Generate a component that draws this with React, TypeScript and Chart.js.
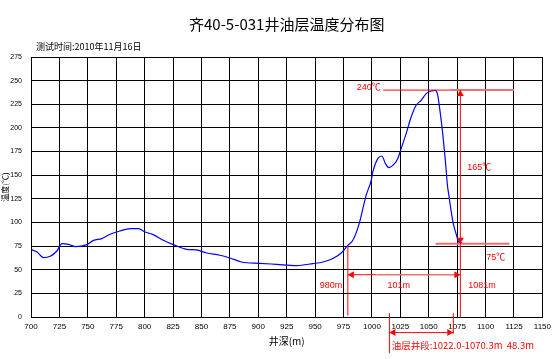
import { useEffect, useRef } from "react";
import { Chart, registerables } from "chart.js";
Chart.register(...registerables);

const TITLE = "齐40-5-031井油层温度分布图";
const SUBTITLE = "测试时间:2010年11月16日";
const X_TITLE = "井深(m)";
const Y_TITLE = "温度(℃)";

const depths = [
  700.3, 705.3, 711.1, 716.9, 722.8, 727.2, 733, 738.9, 749.2, 755, 762.3, 769.6, 778.4, 787.2, 794.5,
  800.4, 807.6, 816.4, 825.2, 837, 845.7, 854.5, 866.2, 875, 885.3, 901.3, 916, 933.5, 948.1, 956.9,
  965.7, 973, 978.8, 983.2, 988.8, 994.9, 999.4, 1000.8, 1005.2, 1008.7, 1011.9, 1014.8, 1018.4, 1022.7,
  1025.7, 1030.1, 1034.5, 1038.9, 1043.3, 1047.7, 1052.1, 1055.8, 1057.9, 1060.2, 1062.3, 1064.6,
  1066.6, 1067.5, 1069.6, 1071.6, 1074, 1076.3, 1078.4, 1079.6,
];
const temps = [
  71.3, 68.7, 62.8, 64.2, 69.8, 77.6, 76.9, 74.5, 76.6, 81.1, 82.9, 87.5, 91, 93.5, 93.5,
  89.9, 87.1, 81.1, 76.6, 71.6, 70.9, 67.7, 65.3, 62.4, 58.2, 56.8, 55.7, 54.4, 56.5, 58.2,
  61.8, 67.7, 75.8, 81.1, 98.8, 128.7, 144.6, 153.4, 167.5, 170.3, 162.2, 158, 160.4, 167.5,
  178.1, 194, 211.5, 223.9, 229.2, 236.3, 239, 239.8, 234.5, 215.1, 194, 165.7,
  137.5, 130.5, 112.8, 98.8, 88.2, 79.3, 78.3, 78.5,
];

const X_MIN = 700;
const X_MAX = 1150;
const X_STEP = 25;
const Y_MIN = 0;
const Y_MAX = 275;
const Y_STEP = 25;

// annotation values (depth m, temperature ℃)
const MAX_T = 240;
const MIN_T = 77.5;
const START_DEPTH = 978.8;
const END_DEPTH = 1077.8;
const SPAN_T = 44.7;
const OIL_TOP = 1015.4;
const OIL_BOTTOM = 1071.6;
const annotationTexts = [
  { text: "240℃", x: 986.6, y: 243 },
  { text: "165℃", x: 1083.9, y: 158.3 },
  { text: "75℃", x: 1100.6, y: 63 },
  { text: "101m", x: 1013.7, y: 33.5 },
  { text: "980m", x: 954, y: 33.5 },
  { text: "1081m", x: 1084.8, y: 33.5 },
  { text: "油层井段:1022.0-1070.3m  48.3m", x: 1017.5, y: -30.5 },
];

function arrowHead(ctx: CanvasRenderingContext2D, x: number, y: number, dir: string) {
  const L = 6, W = 3.5;
  ctx.beginPath();
  if (dir === "up") { ctx.moveTo(x, y); ctx.lineTo(x - W, y + L); ctx.lineTo(x + W, y + L); }
  if (dir === "down") { ctx.moveTo(x, y); ctx.lineTo(x - W, y - L); ctx.lineTo(x + W, y - L); }
  if (dir === "left") { ctx.moveTo(x, y); ctx.lineTo(x + L, y - W); ctx.lineTo(x + L, y + W); }
  if (dir === "right") { ctx.moveTo(x, y); ctx.lineTo(x - L, y - W); ctx.lineTo(x - L, y + W); }
  ctx.closePath();
  ctx.fill();
}

function line(ctx: CanvasRenderingContext2D, x1: number, y1: number, x2: number, y2: number, color: string, w: number) {
  ctx.strokeStyle = color;
  ctx.lineWidth = w;
  ctx.beginPath();
  ctx.moveTo(x1, y1);
  ctx.lineTo(x2, y2);
  ctx.stroke();
}

const decor = {
  id: "decor",
  afterDraw(chart: any) {
    const { ctx, scales } = chart;
    const X = (v: number) => scales.x.getPixelForValue(v);
    const Y = (v: number) => scales.y.getPixelForValue(v);
    const area = chart.chartArea;
    ctx.save();
    // titles
    ctx.fillStyle = "#000";
    ctx.textBaseline = "middle";
    ctx.textAlign = "center";
    ctx.font = '15px "Noto Sans CJK SC"';
    ctx.fillText(TITLE, (area.left + area.right) / 2, 24);
    ctx.textAlign = "left";
    ctx.font = '9px "Noto Sans CJK SC"';
    ctx.fillText(SUBTITLE, 36, 47);
    ctx.textAlign = "center";
    ctx.font = '10px "Noto Sans CJK SC"';
    ctx.fillText(X_TITLE, (area.left + area.right) / 2, 341);
    ctx.save();
    ctx.translate(5, 187);
    ctx.rotate(-Math.PI / 2);
    ctx.font = '8px "Noto Sans CJK SC"';
    ctx.fillText(Y_TITLE, 0, 0);
    ctx.restore();

    const red = "#ff0000";
    const pink = "#f07070";
    ctx.fillStyle = red;
    // max temperature line
    line(ctx, X(1010), Y(MAX_T), X(1068), Y(MAX_T), red, 1);
    line(ctx, X(1068), Y(MAX_T), X(1125), Y(MAX_T), pink, 2);
    // min temperature line
    line(ctx, X(1056), Y(MIN_T), X(1121), Y(MIN_T), pink, 2);
    // vertical arrow at end depth
    line(ctx, X(END_DEPTH), Y(MAX_T), X(END_DEPTH), Y(0), red, 1);
    arrowHead(ctx, X(END_DEPTH), Y(MAX_T), "up");
    arrowHead(ctx, X(END_DEPTH), Y(MIN_T), "down");
    // vertical line at start depth
    line(ctx, X(START_DEPTH), Y(75.8), X(START_DEPTH), Y(1.5), red, 1);
    // horizontal span arrow
    line(ctx, X(START_DEPTH), Y(SPAN_T), X(1004), Y(SPAN_T), red, 1);
    line(ctx, X(1004), Y(SPAN_T), X(END_DEPTH), Y(SPAN_T), pink, 1.6);
    arrowHead(ctx, X(START_DEPTH), Y(SPAN_T), "left");
    arrowHead(ctx, X(END_DEPTH), Y(SPAN_T), "right");
    // oil layer bracket below the axis
    line(ctx, X(OIL_TOP), Y(4), X(OIL_TOP), Y(-38.4), red, 1);
    line(ctx, X(OIL_BOTTOM), Y(4), X(OIL_BOTTOM), Y(-17.6), red, 1);
    line(ctx, X(OIL_TOP), Y(-16.5), X(OIL_BOTTOM), Y(-16.5), red, 1);
    arrowHead(ctx, X(OIL_TOP), Y(-16.5), "left");
    arrowHead(ctx, X(OIL_BOTTOM), Y(-16.5), "right");
    // texts
    ctx.fillStyle = red;
    ctx.textAlign = "left";
    ctx.textBaseline = "middle";
    ctx.font = '9px "Liberation Sans", "Noto Sans CJK SC"';
    for (const t of annotationTexts) {
      if (t.y < 0) ctx.font = '9.5px "Noto Sans CJK SC"';
      ctx.fillText(t.text, X(t.x), Y(t.y));
    }
    ctx.restore();
  },
};

export default function App() {
  const ref = useRef<HTMLCanvasElement>(null);
  useEffect(() => {
    document.body.style.margin = "0";
    const chart = new Chart(ref.current!, {
      type: "line",
      data: {
        datasets: [
          {
            data: depths.map((d, i) => ({ x: d, y: temps[i] })),
            borderColor: "#0000ff",
            borderWidth: 1.2,
            pointRadius: 0,
            tension: 0.4,
            cubicInterpolationMode: "monotone",
            fill: false,
          },
        ],
      },
      options: {
        animation: false,
        responsive: false,
        events: [],
        layout: { padding: { left: 0, right: 12, top: 57, bottom: 28 } },
        plugins: { legend: { display: false }, tooltip: { enabled: false }, title: { display: false } },
        scales: {
          x: {
            type: "linear",
            min: X_MIN,
            max: X_MAX,
            ticks: {
              stepSize: X_STEP,
              color: "#000",
              padding: 5,
              font: { size: 8, family: '"Liberation Sans"' },
              maxRotation: 0,
              autoSkip: false,
              callback: (v: any) => String(v),
            },
            grid: { color: "#000", lineWidth: 1, drawTicks: false },
            border: { color: "#000", width: 1 },
            afterFit: (s: any) => { s.height = 14; },
          },
          y: {
            min: Y_MIN,
            max: Y_MAX,
            ticks: { stepSize: Y_STEP, color: "#000", padding: 9, font: { size: 7, family: '"Liberation Sans"' }, callback: (v: any) => String(v) },
            grid: { color: "#000", lineWidth: 1, drawTicks: false },
            border: { color: "#000", width: 1 },
            afterFit: (s: any) => { s.width = 31; },
          },
        },
      },
      plugins: [decor],
    } as any);
    return () => chart.destroy();
  }, []);
  return (
    <div style={{ width: 556, height: 359, background: "#fff" }}>
      <canvas ref={ref} width={556} height={359} />
    </div>
  );
}
